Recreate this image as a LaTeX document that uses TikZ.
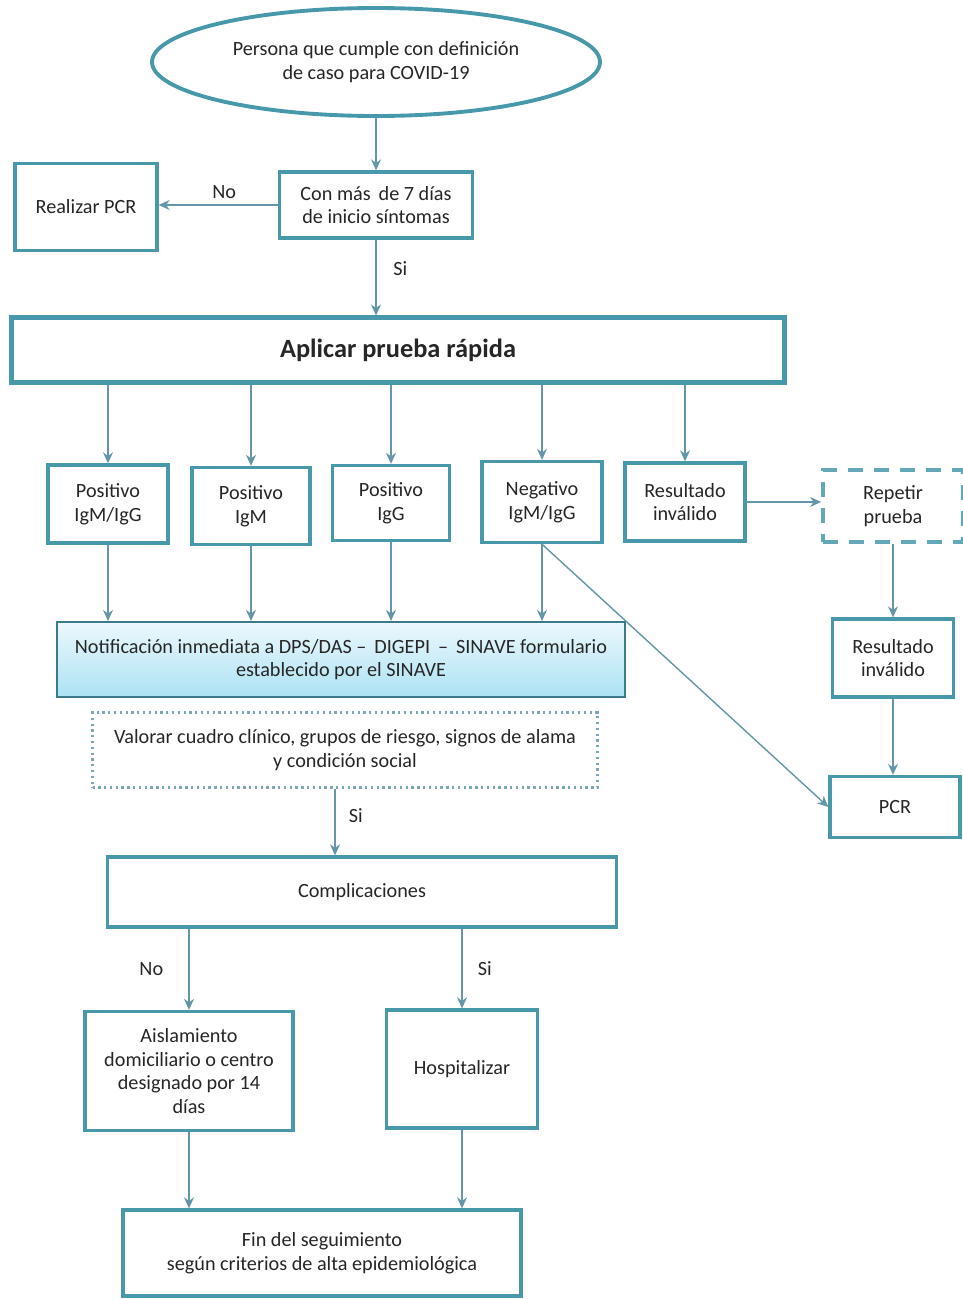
\documentclass[tikz,border=0pt]{standalone}
\usepackage{fontspec}
\setmainfont{Carlito}
\usepackage{xcolor}
\usepackage{tikz}
\usetikzlibrary{arrows.meta,positioning,shapes.geometric,calc}
\definecolor{cvedge}{RGB}{72,152,172}
\definecolor{cvline}{RGB}{98,150,168}
\definecolor{cvtext}{RGB}{38,38,38}
\definecolor{cvtop}{RGB}{236,248,252}
\definecolor{cvbottom}{RGB}{172,226,244}
\tikzset{
cvbox/.style={rectangle,draw=cvedge,line width=1.9pt,fill=white,align=center,inner sep=2pt,text=cvtext},
cvhead/.style={cvbox,line width=2.3pt,font=\fontsize{15}{18}\selectfont\bfseries},
cvstart/.style={ellipse,draw=cvedge,line width=2.2pt,fill=white,align=center,inner sep=0pt,text=cvtext},
cvnotice/.style={cvbox,line width=1.2pt,draw=cvedge!80!black,top color=cvtop,bottom color=cvbottom},
cvcheck/.style={cvbox,line width=1.3pt,draw=cvline!85,dotted},
cvrepeat/.style={cvbox,line width=2.2pt,draw=cvedge!85,dash pattern=on 0.30cm off 0.22cm},
cvarr/.style={-{Stealth[length=2.2mm,width=2mm]},draw=cvline,line width=0.8pt},
cvlabel/.style={font=\fontsize{11.5}{13.5}\selectfont,text=cvtext,inner sep=1.5pt}
}
\begin{document}
\begin{tikzpicture}[
x=1cm,
y=1cm,
every node/.style={font=\fontsize{11.5}{13.5}\selectfont}
]
\useasboundingbox (0,0) rectangle (19.26,-25.98);
\node[cvstart,minimum width=8.96cm,minimum height=2.16cm]
  (caso) at (7.52,-1.24) {Persona que cumple con definición\\de caso para COVID-19};
\node[cvbox,minimum width=3.86cm,minimum height=1.32cm]
  (dias) at (7.52,-4.10) {Con más \,de 7 días\\de inicio síntomas};
\node[cvbox,minimum width=2.84cm,minimum height=1.74cm]
  (pcrA) at (1.72,-4.14) {Realizar PCR};
\node[cvhead,minimum width=15.46cm,minimum height=1.30cm]
  (prueba) at (7.96,-7.00) {Aplicar prueba rápida};
\node[cvbox,minimum width=2.40cm,minimum height=1.56cm]
  (pos1) at (2.16,-10.08) {Positivo\\IgM/IgG};
\node[cvbox,minimum width=2.36cm,minimum height=1.54cm]
  (pos2) at (5.02,-10.12) {Positivo\\IgM};
\node[cvbox,minimum width=2.34cm,minimum height=1.50cm]
  (pos3) at (7.82,-10.06) {Positivo\\IgG};
\node[cvbox,minimum width=2.40cm,minimum height=1.62cm]
  (neg) at (10.84,-10.04) {Negativo\\IgM/IgG};
\node[cvbox,minimum width=2.40cm,minimum height=1.56cm]
  (inval) at (13.70,-10.04) {Resultado\\inválido};
\node[cvrepeat,minimum width=2.80cm,minimum height=1.44cm]
  (repetir) at (17.86,-10.12) {Repetir\\prueba};
\node[cvbox,minimum width=2.42cm,minimum height=1.56cm]
  (inval2) at (17.86,-13.16) {Resultado\\inválido};
\node[cvbox,minimum width=2.60cm,minimum height=1.22cm]
  (pcrB) at (17.90,-16.14) {PCR};
\node[cvnotice,minimum width=11.36cm,minimum height=1.50cm]
  (notif) at (6.82,-13.19) {Notificación inmediata a DPS/DAS -- \,DIGEPI \,-- \,SINAVE formulario\\establecido por el SINAVE};
\node[cvcheck,minimum width=10.10cm,minimum height=1.50cm]
  (valorar) at (6.90,-15.00) {Valorar cuadro clínico, grupos de riesgo, signos de alama\\y condición social};
\node[cvbox,minimum width=10.18cm,minimum height=1.40cm]
  (compl) at (7.24,-17.84) {Complicaciones};
\node[cvbox,minimum width=4.16cm,minimum height=2.38cm]
  (aisl) at (3.78,-21.42) {Aislamiento\\domiciliario o centro\\designado por 14\\días};
\node[cvbox,minimum width=3.02cm,minimum height=2.36cm]
  (hosp) at (9.24,-21.38) {Hospitalizar};
\node[cvbox,minimum width=7.96cm,minimum height=1.72cm]
  (fin) at (6.44,-25.06) {Fin del seguimiento\\según criterios de alta epidemiológica};
% top part
\draw[cvarr] (caso)--(dias);
\draw[cvarr] (dias.west)--node[cvlabel,above,pos=0.45,yshift=2pt]{No}(dias.west-|pcrA.east);
\draw[cvarr] (dias)--node[cvlabel,right,pos=0.38,xshift=8pt]{Si}(dias|-prueba.north);
% results of the rapid test
\draw[cvarr] (prueba.south-|pos1)--(pos1);
\draw[cvarr] (prueba.south-|pos2)--(pos2);
\draw[cvarr] (prueba.south-|pos3)--(pos3);
\draw[cvarr] (prueba.south-|neg)--(neg);
\draw[cvarr] (prueba.south-|inval)--(inval);
\draw[cvarr] (inval.east)--(inval.east-|repetir.west);
\draw[cvarr] (repetir)--(inval2);
\draw[cvarr] (inval2)--(inval2|-pcrB.north);
\draw[cvarr] (pos1)--(pos1|-notif.north);
\draw[cvarr] (pos2)--(pos2|-notif.north);
\draw[cvarr] (pos3)--(pos3|-notif.north);
\draw[cvarr] (neg)--(neg|-notif.north);
\draw[cvarr] (neg.south)--(pcrB.west);
% follow-up
\draw[cvarr] ([xshift=-0.2cm]valorar.south)--node[cvlabel,right,pos=0.4,xshift=6pt]{Si}([xshift=-0.2cm]valorar.south|-compl.north);
\draw[cvarr] (aisl|-compl.south)--node[cvlabel,left,pos=0.5,xshift=-0.45cm]{No}(aisl);
\draw[cvarr] (hosp|-compl.south)--node[cvlabel,right,pos=0.5,xshift=0.25cm]{Si}(hosp);
\draw[cvarr] (aisl)--(aisl|-fin.north);
\draw[cvarr] (hosp)--(hosp|-fin.north);
\end{tikzpicture}
\end{document}
